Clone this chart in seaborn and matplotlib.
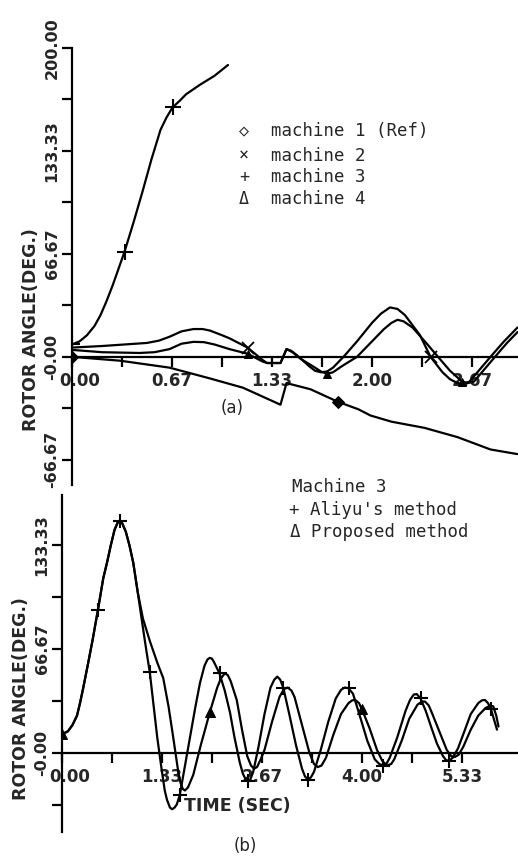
import numpy as np
import pandas as pd
import matplotlib
matplotlib.use("Agg")
import matplotlib.pyplot as plt
import matplotlib.transforms as mtransforms
import seaborn as sns

# ---------------- Panel (a): rotor angles of machines 1-4 ----------------
m1_t = [0, 0.32, 0.65, 0.92, 1.14, 1.39, 1.43, 1.59, 1.77, 1.91, 1.99, 2.13, 2.35, 2.57, 2.79, 2.97]
m1_v = [0, -2.5, -7, -14, -20, -31, -17, -21, -29, -34, -38, -42, -46, -52, -60, -63]
m1_marks = [0, 1.77]

m2_t = [0, 0.2, 0.35, 0.5, 0.58, 0.65, 0.73, 0.81, 0.87, 0.92, 1.0, 1.05, 1.17, 1.27, 1.3, 1.39,
        1.43, 1.46, 1.5, 1.58, 1.62, 1.66, 1.7, 1.74, 1.81, 1.9, 2.0, 2.06, 2.12, 2.17, 2.22,
        2.32, 2.39, 2.47, 2.52, 2.57, 2.61, 2.65, 2.72, 2.79, 2.88, 2.97]
m2_v = [6, 7, 8, 9, 10.5, 13, 16.5, 18, 18, 17, 14, 12, 6, -2, -4, -4,
        5, 4, 1, -6, -9, -10, -9.5, -7, 0, 10, 22, 28, 32, 31, 27,
        14, 0, -10, -14.5, -17, -17.5, -16, -8, 0, 10, 19]
m2_marks = [1.17, 2.39]

m3_t = [0, 0.05, 0.1, 0.15, 0.19, 0.23, 0.27, 0.31, 0.35, 0.41, 0.47, 0.53, 0.59, 0.63, 0.67,
        0.72, 0.76, 0.85, 0.95, 1.04]
m3_v = [8, 10, 14, 20, 27, 36, 46, 57, 68, 87, 107, 128, 147, 155, 161.5,
        166, 170, 176, 182, 189]
m3_marks = [0, 0.35, 0.67]

m4_t = [0, 0.2, 0.45, 0.55, 0.65, 0.73, 0.81, 0.88, 0.95, 1.05, 1.17, 1.27, 1.3, 1.39, 1.43, 1.47,
        1.52, 1.62, 1.66, 1.7, 1.74, 1.8, 1.9, 2.0, 2.08, 2.13, 2.17, 2.21, 2.27, 2.37, 2.44,
        2.52, 2.6, 2.64, 2.68, 2.75, 2.82, 2.9, 2.97]
m4_v = [4.5, 3, 2.5, 3, 5, 8.5, 9.7, 9.5, 8, 5, 2, -3, -4, -4, 5, 3,
        -1, -7, -9.5, -11, -10, -6, 0, 10, 18, 22, 24, 23, 19, 8, 0,
        -9, -16, -17, -16, -8, 0, 9, 16]
m4_marks = [1.17, 1.7, 2.6]

a_xticks_major = [0, 2/3, 4/3, 2, 8/3]
a_xticks_minor = [1/3, 1, 5/3, 7/3]
a_xticklabels = ["0.00", "0.67", "1.33", "2.00", "2.67"]
a_yticks_major = [-200/3, 0, 200/3, 400/3, 200]
a_yticks_minor = [-100/3, 100/3, 100, 500/3]
a_yticklabels = ["-66.67", "-0.00", "66.67", "133.33", "200.00"]
a_legend = ["machine 1 (Ref)", "machine 2", "machine 3", "machine 4"]
a_legend_sym = ["\u25c7", "\u00d7", "+", "\u0394"]

# ---------------- Panel (b): machine 3, two methods ----------------
common_t = [0, 0.08, 0.14, 0.2, 0.24, 0.28, 0.35, 0.41, 0.48, 0.55, 0.6, 0.65, 0.7, 0.74, 0.77, 0.8,
            0.85, 0.9, 0.95, 1.01]
common_v = [12, 14, 18, 24, 32, 41, 58, 73, 92, 112, 122, 133, 143, 147.5, 149, 147.5,
            142, 133, 122, 103]

aliyu_t = [1.08, 1.13, 1.17, 1.22, 1.27, 1.33, 1.37, 1.4, 1.44, 1.47, 1.5, 1.53, 1.57, 1.64, 1.71,
           1.78, 1.84, 1.9, 1.94, 1.97, 2.0, 2.03, 2.1, 2.17, 2.24, 2.3, 2.37, 2.41, 2.45, 2.48,
           2.51, 2.55, 2.62, 2.7, 2.78, 2.83, 2.87, 2.91, 2.95, 3.03, 3.12, 3.2, 3.24, 3.28, 3.32,
           3.36, 3.45, 3.55, 3.65, 3.72, 3.77, 3.82, 3.88, 3.97, 4.07, 4.17, 4.23, 4.28, 4.33, 4.37,
           4.47, 4.58, 4.64, 4.69, 4.73, 4.78, 4.85, 4.92, 5.0, 5.08, 5.12, 5.16, 5.21, 5.28, 5.35,
           5.45, 5.55, 5.6, 5.64, 5.68, 5.72, 5.8]
aliyu_v = [80, 64, 52, 31, 10, -11, -24, -30, -35, -36, -35, -33, -27, -8, 11,
           30, 45, 56, 60, 61, 60.5, 58, 51, 40, 26, 10, -6, -13, -17, -18,
           -17, -12, 4, 25, 42, 47, 49, 47, 42, 25, 5, -10, -15, -17, -15.5,
           -12, 2, 20, 35, 40.5, 42, 41.5, 38, 24, 8, -4, -7, -8, -6.5, -3,
           10, 27, 34, 37.5, 37.8, 35, 27, 17, 6, -2, -4.5, -5, -3, 3, 12,
           25, 32, 33.8, 34, 32, 28, 15]
aliyu_marks = [0.48, 0.77, 1.17, 1.57, 2.1, 2.48, 2.95, 3.28, 3.82, 4.28, 4.78, 5.16, 5.72]

prop_t = [1.08, 1.17, 1.27, 1.35, 1.42, 1.48, 1.55, 1.58, 1.61, 1.64, 1.68, 1.75, 1.85, 1.97, 2.07,
          2.12, 2.17, 2.21, 2.25, 2.33, 2.4, 2.47, 2.52, 2.56, 2.6, 2.65, 2.7, 2.8, 2.9, 2.96,
          3.01, 3.06, 3.1, 3.2, 3.3, 3.36, 3.41, 3.46, 3.52, 3.62, 3.72, 3.82, 3.87, 3.91, 3.96,
          4.0, 4.1, 4.2, 4.27, 4.33, 4.39, 4.43, 4.53, 4.63, 4.74, 4.8, 4.84, 4.89, 4.93, 5.03,
          5.13, 5.19, 5.24, 5.29, 5.35, 5.45, 5.55, 5.65, 5.71, 5.75, 5.79, 5.82]
prop_v = [86, 72, 58, 48, 30, 11, -12, -19, -23, -24, -22, -14, 5, 26, 42,
          48, 51, 50, 46, 34, 15, -2, -8, -10, -9, -4, 2, 20, 36, 41,
          42, 40, 36, 18, 0, -7, -9, -8, -3, 12, 25, 32, 33.8, 34, 32,
          28, 16, 2, -5, -8, -7, -4, 8, 22, 31, 33, 33, 30.5, 26, 14,
          2, -2, -2.5, -1, 4, 15, 24, 29, 30.2, 30, 24, 17]
prop_marks = [0, 1.97, 4.0]

b_xticks_major = [0, 4/3, 8/3, 4, 16/3]
b_xticks_minor = [2/3, 2, 10/3, 14/3]
b_xticklabels = ["0.00", "1.33", "2.67", "4.00", "5.33"]
b_yticks_major = [0, 200/3, 400/3]
b_yticks_minor = [-100/3, 100/3, 100]
b_yticklabels = ["-0.00", "66.67", "133.33"]
b_legend = ["Machine 3", "+ Aliyu's method", "\u0394 Proposed method"]

# ---------------- style ----------------
sns.set_theme(style="white")
plt.rcParams['font.family'] = ['DejaVu Sans']
plt.rcParams['axes.linewidth'] = 1.6

W, H = 518, 865
fig = plt.figure(figsize=(W / 100, H / 100), dpi=100)
fig.patch.set_facecolor("white")

def px(x, y):
    return x / W, 1 - y / H

def mark_idx(ts, marks):
    arr = np.asarray(ts, dtype=float)
    return [int(np.argmin(np.abs(arr - m))) for m in marks]

ax1 = fig.add_axes([72 / W, 1 - 485 / H, (W - 72) / W, (485 - 48) / H])
ax2 = fig.add_axes([62 / W, 1 - 832 / H, (W - 62) / W, (832 - 495) / H])

lw = 1.6
line_kw = dict(color="black", linewidth=lw, estimator=None, sort=False, legend=False,
               solid_joinstyle="round", solid_capstyle="round")

# Panel (a)
sns.lineplot(x=m1_t, y=m1_v, ax=ax1, marker="D", markersize=6, markerfacecolor="black",
             markeredgecolor="black", markevery=mark_idx(m1_t, m1_marks), **line_kw)
sns.lineplot(x=m2_t, y=m2_v, ax=ax1, marker="x", markersize=8, markeredgewidth=1.3,
             markeredgecolor="black", markevery=mark_idx(m2_t, m2_marks), **line_kw)
sns.lineplot(x=m3_t, y=m3_v, ax=ax1, marker="+", markersize=11, markeredgewidth=1.5,
             markeredgecolor="black", markevery=mark_idx(m3_t, m3_marks), **line_kw)
sns.lineplot(x=m4_t, y=m4_v, ax=ax1, marker="^", markersize=6, markerfacecolor="black",
             markeredgecolor="black", markevery=mark_idx(m4_t, m4_marks), **line_kw)

# Panel (b)
al_t = common_t + aliyu_t
al_v = common_v + aliyu_v
pr_t = common_t + prop_t
pr_v = common_v + prop_v
sns.lineplot(x=pr_t, y=pr_v, ax=ax2, marker="^", markersize=7, markerfacecolor="black",
             markeredgecolor="black", markevery=mark_idx(pr_t, prop_marks), **line_kw)
sns.lineplot(x=al_t, y=al_v, ax=ax2, marker="+", markersize=10, markeredgewidth=1.5,
             markeredgecolor="black", markevery=mark_idx(al_t, aliyu_marks), **line_kw)

def style_axis(ax, xlim, ylim, xmaj, xmin, xlabs, ymaj, ymin, ylabs):
    ax.set_xlim(*xlim)
    ax.set_ylim(*ylim)
    ax.set_facecolor("none")
    ax.spines['top'].set_visible(False)
    ax.spines['right'].set_visible(False)
    ax.spines['bottom'].set_position(('data', 0))
    for s in ('left', 'bottom'):
        ax.spines[s].set_color("black")
        ax.spines[s].set_linewidth(1.6)
    ax.set_xticks(xmaj)
    ax.set_xticks(xmin, minor=True)
    ax.set_xticklabels(xlabs)
    ax.set_yticks(ymaj)
    ax.set_yticks(ymin, minor=True)
    ax.set_yticklabels(ylabs)
    ax.tick_params(which='both', direction='out', length=7, width=1.6, color='black',
                   bottom=True, left=True)
    ax.tick_params(axis='x', which='major', labelsize=12, pad=4)
    ax.tick_params(axis='y', which='major', labelsize=11.5, labelrotation=90, pad=2)
    for lab in ax.get_xticklabels() + ax.get_yticklabels():
        lab.set_fontweight('bold')
    for lab in ax.get_yticklabels():
        lab.set_va('center')
    first = ax.get_xticklabels()[0]
    first.set_transform(first.get_transform() + mtransforms.ScaledTranslation(8 / 100, 0, fig.dpi_scale_trans))
    ax.grid(False)

style_axis(ax1, (0, (W - 72) / 150), (-83, 200), a_xticks_major, a_xticks_minor, a_xticklabels,
           a_yticks_major, a_yticks_minor, a_yticklabels)
style_axis(ax2, (0, (W - 62) / 75), (-50.6, 165.4), b_xticks_major, b_xticks_minor, b_xticklabels,
           b_yticks_major, b_yticks_minor, b_yticklabels)

# axis labels
ax1.set_ylabel("ROTOR ANGLE(DEG.)", fontsize=12.5, fontweight='bold')
ax1.yaxis.set_label_coords((40 - 72) / (W - 72), (485 - 330) / (485 - 48))
ax2.set_ylabel("ROTOR ANGLE(DEG.)", fontsize=12.5, fontweight='bold')
ax2.yaxis.set_label_coords((30 - 62) / (W - 62), (832 - 699) / (832 - 495))
fig.text(*px(237, 806), "TIME (SEC)", fontsize=12.5, fontweight='bold', ha='center', va='center')

# panel tags
fig.text(*px(232, 408), "(a)", fontsize=12, ha='center', va='center')
fig.text(*px(245, 846), "(b)", fontsize=12, ha='center', va='center')

# legend (a)
mono = ['DejaVu Sans Mono', 'DejaVu Sans']
rows_a = [131, 156, 177, 199]
for sym, txt, yy in zip(a_legend_sym, a_legend, rows_a):
    fig.text(*px(244, yy), sym, fontsize=12, ha='center', va='center', family=mono)
    fig.text(*px(271, yy), txt, fontsize=12.5, ha='left', va='center', family=mono)

# legend (b)
rows_b = [(292, 487), (289, 510), (290, 532)]
for txt, (xx, yy) in zip(b_legend, rows_b):
    fig.text(*px(xx, yy), txt, fontsize=12.5, ha='left', va='center', family=mono)

fig.savefig("out.png", dpi=100, facecolor="white")
